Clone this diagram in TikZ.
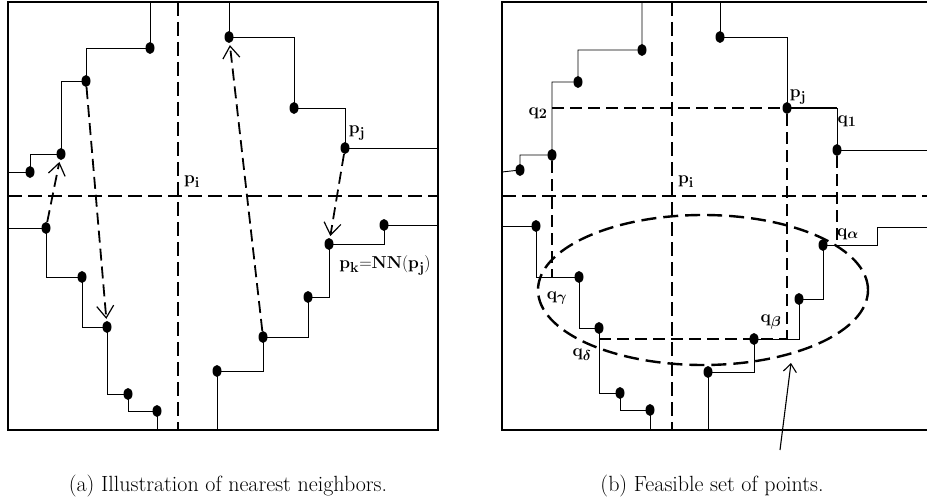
\documentclass[tikz,border=0pt]{standalone}
\usepackage{amsmath}
\usepackage{amssymb}
\usetikzlibrary{arrows.meta,shapes.geometric}

\begin{document}
\begin{tikzpicture}[x=1pt,y=-1pt,
    pnt/.style={ellipse,fill,inner sep=0pt,minimum width=9pt,minimum height=12pt},
    stair/.style={line width=0.9pt},
    frame/.style={line width=2.6pt},
    cross/.style={line width=1.8pt,dash pattern=on 14pt off 6pt},
    link/.style={line width=1.8pt,dash pattern=on 12pt off 6pt,shorten >=2pt,
        -{Straight Barb[length=12pt,width=17pt,line width=1.2pt]}},
    fence/.style={line width=1.8pt,dash pattern=on 12pt off 6pt},
    oval/.style={line width=2.4pt,dash pattern=on 15pt off 7pt},
    pointer/.style={line width=1.1pt,-{Straight Barb[length=8pt,width=13pt,line width=1.1pt]}},
    lbl/.style={font=\fontsize{19}{21}\selectfont},
    captxt/.style={anchor=base,font=\fontsize{22}{26}\selectfont}]
  \useasboundingbox (0,0) rectangle (927,503);

  \foreach \o in {0,494}{
    \draw[frame] (8+\o,2) rectangle (438+\o,430);
    \draw[cross] (178+\o,2) -- (178+\o,430);
    \draw[cross] (8+\o,196) -- (438+\o,196);
  }

  % (a) nearest neighbours
  \node[pnt] (a1) at (150,48) {};
  \node[pnt] (a2) at (86,81) {};
  \node[pnt] (a3) at (61,154) {};
  \node[pnt] (a4) at (30,172) {};
  \node[pnt] (b1) at (46,228) {};
  \node[pnt] (b2) at (82,277) {};
  \node[pnt] (b3) at (107,327) {};
  \node[pnt] (b4) at (128,394) {};
  \node[pnt] (b5) at (157,411) {};
  \node[pnt] (c1) at (217,371) {};
  \node[pnt] (c2) at (263,337) {};
  \node[pnt] (c3) at (308,297) {};
  \node[pnt] (c4) at (329,244) {};
  \node[pnt] (c5) at (384,225) {};
  \node[pnt] (e1) at (229,37) {};
  \node[pnt] (e2) at (294,108) {};
  \node[pnt] (e3) at (345,148) {};
  \coordinate (a0) at (150,2);
  \coordinate (a5) at (8,172);
  \coordinate (b0) at (8,228);
  \coordinate (b6) at (157,430);
  \coordinate (c0) at (217,430);
  \coordinate (c6) at (438,225);
  \coordinate (e0) at (229,2);
  \coordinate (e4) at (438,148);

  \draw[stair] (a0) -- (a1.center) -| (a2.center) -| (a3.center) -| (a4.center) -- (a5);
  \draw[stair] (b0) -- (b1.center) |- (b2.center) |- (b3.center) |- (b4.center) |- (b5.center) -- (b6);
  \draw[stair] (c0) -- (c1.center) -| (c2.center) -| (c3.center) -| (c4.center) -| (c5.center) -- (c6);
  \draw[stair] (e0) -- (e1.center) -| (e2.center) -| (e3.center) -- (e4);

  \draw[link] (b1) -- (a3);
  \draw[link] (a2) -- (b3);
  \draw[link] (c2) -- (e1);
  \draw[link] (e3) -- (c4);

  \node[lbl] (pi) at (192,182) {$\mathbf{p_i}$};
  \node[lbl] (pj) at (357,133) {$\mathbf{p_j}$};
  \node[lbl] (pk) at (385,265) {$\mathbf{p_k{=}NN(p_j)}$};

  % (b) feasible set
  \node[pnt] (ra1) at (642,50) {};
  \node[pnt] (ra2) at (578,82) {};
  \node[pnt] (ra3) at (552,155) {};
  \node[pnt] (ra4) at (520,170) {};
  \node[pnt] (rb1) at (536,226) {};
  \node[pnt] (rb2) at (579,277) {};
  \node[pnt] (rb3) at (599,328) {};
  \node[pnt] (rb4) at (620,393) {};
  \node[pnt] (rb5) at (650,410) {};
  \node[pnt] (rc1) at (708,372) {};
  \node[pnt] (rc2) at (754,339) {};
  \node[pnt] (rc3) at (799,299) {};
  \node[pnt] (rc4) at (823,245) {};
  \node[pnt] (re1) at (720,37) {};
  \node[pnt] (re2) at (787,108) {};
  \node[pnt] (re3) at (837,150) {};
  \coordinate (ra0) at (642,2);
  \coordinate (ra5) at (502,172);
  \coordinate (rb0) at (502,226);
  \coordinate (rb6) at (650,430);
  \coordinate (rc0) at (708,430);
  \coordinate (rc5) at (877,227);
  \coordinate (rc6) at (932,227);
  \coordinate (re0) at (720,2);
  \coordinate (re4) at (932,150);

  \draw[stair] (ra0) -- (ra1.center) -| (ra2.center) -| (ra3.center) -| (ra4.center) -- (ra5);
  \draw[stair] (rb0) -- (rb1.center) |- (rb2.center) |- (rb3.center) |- (rb4.center) |- (rb5.center) -- (rb6);
  \draw[stair] (rc0) -- (rc1.center) -| (rc2.center) -| (rc3.center) -| (rc4.center) -| (rc5) -- (rc6);
  \draw[stair] (re0) -- (re1.center) -| (re2.center) -| (re3.center) -- (re4);

  \coordinate (q2) at (552,108);
  \coordinate (q1) at (837,108);
  \coordinate (qa) at (837,245);
  \coordinate (qb) at (787,339);
  \coordinate (qg) at (552,277);
  \coordinate (qd) at (599,339);

  \draw[line width=2.2pt] (re2.center) -- (q1);
  \draw[fence] (q2) -- (re2);
  \draw[fence] (ra3) -- (qg);
  \draw[fence] (re2) -- (qb);
  \draw[fence] (qd) -- (qb);
  \draw[fence] (re3) -- (qa);

  \draw[oval] (703,290) ellipse [x radius=165pt, y radius=75pt];
  \coordinate (tail) at (780,450);
  \coordinate (head) at (791,363);
  \draw[pointer] (tail) -- (head);

  \node[lbl] (rpi) at (686,182) {$\mathbf{p_i}$};
  \node[lbl] (rpj) at (798,97) {$\mathbf{p_j}$};
  \node[lbl] (lq2) at (538,113) {$\mathbf{q_2}$};
  \node[lbl] (lq1) at (847,121) {$\mathbf{q_1}$};
  \node[lbl] (lqa) at (848,234) {$\mathbf{q}_{\boldsymbol\alpha}$};
  \node[lbl] (lqb) at (771,322) {$\mathbf{q}_{\boldsymbol\beta}$};
  \node[lbl] (lqg) at (557,298) {$\mathbf{q}_{\boldsymbol\gamma}$};
  \node[lbl] (lqd) at (582,355) {$\mathbf{q}_{\boldsymbol\delta}$};

  \node[captxt] (capa) at (228,491) {(a) Illustration of nearest neighbors.};
  \node[captxt] (capb) at (712,491) {(b) Feasible set of points.};
\end{tikzpicture}
\end{document}
